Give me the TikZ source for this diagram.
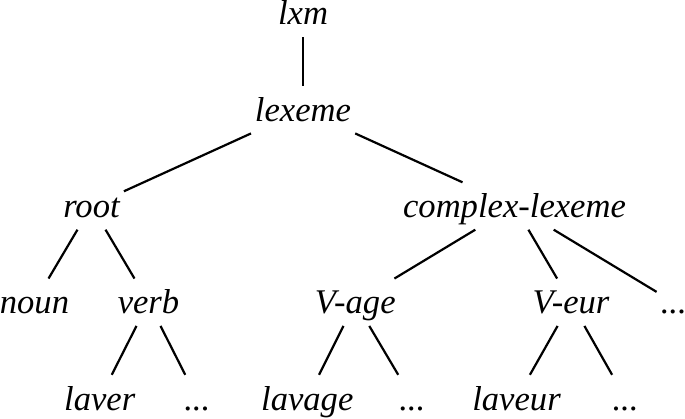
\documentclass[tikz,border=0pt]{standalone}
\usepackage{fontspec}
\setmainfont{Liberation Serif}
\usetikzlibrary{positioning}
\tikzset{
  typenode/.style={font=\fontsize{34.6}{40}\selectfont\itshape,
    text height=31pt, text depth=8pt, inner sep=4pt},
  treeline/.style={line width=2.2pt, color=black}
}

\begin{document}
\begin{tikzpicture}[x=1pt, y=1pt,
  every node/.style={typenode},
  edge from parent/.style={draw, treeline},
  level distance=96.25pt,
  level 2/.style={sibling distance=423pt}
]
  \useasboundingbox (0,0) rectangle (685,-419);
  \node (lxm) at (303,-13.5) {lxm}
    child {node (lexeme) {lexeme}
      child {node (root) {root} [sibling distance=114pt]
        child {node (noun) {noun}}
        child {node (verb) {verb} [sibling distance=97.5pt]
          child {node (laver) {laver}}
          child {node (dotsverb) {...}}
        }
      }
      child {node (cplx) {complex-lexeme} [sibling distance=159.25pt]
        child {node (vage) {V-age} [sibling distance=105pt]
          child[xshift=4.5pt] {node (lavage) {lavage}}
          child[xshift=4.5pt] {node (dotsvage) {...}}
        }
        child[xshift=56.5pt] {node (veur) {V-eur} [sibling distance=109pt]
          child {node (laveur) {laveur}}
          child {node (dotsveur) {...}}
        }
        child {node (dotscplx) {...}}
      }
    };
\end{tikzpicture}
\end{document}
